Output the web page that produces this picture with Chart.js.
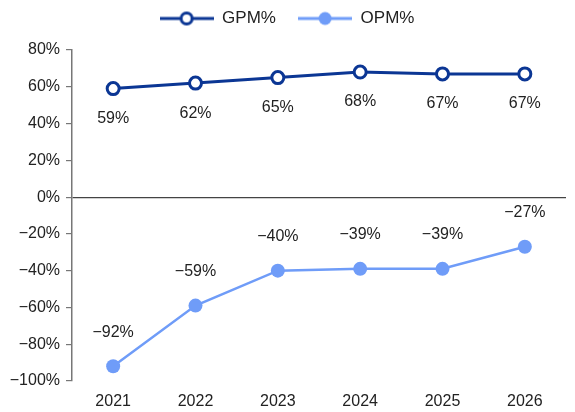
<!DOCTYPE html>
<html>
<head>
<meta charset="utf-8">
<script src="https://cdn.jsdelivr.net/npm/chart.js@4"></script>
<style>
  html, body { margin:0; padding:0; background:#fff; }
  #wrap { width:575px; height:412px; position:relative; }
</style>
</head>
<body>
<div id="wrap"><canvas id="c"></canvas></div>
<script>
'use strict';
const YEARS = ['2021', '2022', '2023', '2024', '2025', '2026'];
const GPM = [59, 62, 65, 68, 67, 67];
const OPM = [-92, -59, -40, -39, -39, -27];
const GPM_LABELS = ['59%', '62%', '65%', '68%', '67%', '67%'];
const OPM_LABELS = ['−92%', '−59%', '−40%', '−39%', '−39%', '−27%'];

const FONT = '"Liberation Sans Narrow", "Arial Narrow", "Liberation Sans", sans-serif';
const DARK = '#0b3694';
const LIGHT = '#6f9cf8';

// legend marker: short line with a circle in the middle
function marker(color, filled) {
  const c = document.createElement('canvas');
  c.width = 54; c.height = 18;
  const g = c.getContext('2d');
  g.strokeStyle = color; g.lineWidth = 3;
  g.beginPath(); g.moveTo(0, 9); g.lineTo(54, 9); g.stroke();
  g.beginPath(); g.arc(27, 9, filled ? 6.5 : 5.5, 0, Math.PI * 2);
  g.fillStyle = filled ? color : '#fff'; g.fill();
  if (!filled) { g.lineWidth = 3; g.stroke(); }
  return c;
}

const valueLabels = {
  id: 'valueLabels',
  afterDatasetsDraw(chart) {
    const ctx = chart.ctx;
    ctx.save();
    ctx.font = '16px ' + FONT;
    ctx.fillStyle = '#222';
    ctx.textAlign = 'center';
    ctx.textBaseline = 'middle';
    chart.getDatasetMeta(0).data.forEach((p, i) => ctx.fillText(GPM_LABELS[i], p.x, p.y + 30));
    chart.getDatasetMeta(1).data.forEach((p, i) => ctx.fillText(OPM_LABELS[i], p.x, p.y - 34));
    ctx.restore();
  }
};

// extra room under the legend
const legendGap = {
  id: 'legendGap',
  beforeInit(chart) {
    const fit = chart.legend.fit;
    chart.legend.fit = function () { fit.bind(chart.legend)(); this.height += 13; };
  }
};

new Chart(document.getElementById('c'), {
  type: 'line',
  data: {
    labels: YEARS,
    datasets: [
      { label: 'GPM%', data: GPM, borderColor: DARK, borderWidth: 3, pointRadius: 6,
        pointBorderWidth: 3, pointBackgroundColor: '#fff', pointBorderColor: DARK, tension: 0 },
      { label: 'OPM%', data: OPM, borderColor: LIGHT, borderWidth: 2.5, pointRadius: 7,
        pointBorderWidth: 0, pointBackgroundColor: LIGHT, pointBorderColor: LIGHT, tension: 0 },
    ]
  },
  options: {
    responsive: true, maintainAspectRatio: false, animation: false,
    layout: { padding: { top: 2, right: 1, bottom: 0, left: 0 } },
    plugins: {
      tooltip: { enabled: false },
      legend: {
        position: 'top',
        labels: {
          usePointStyle: true, pointStyleWidth: 54, boxHeight: 17,
          color: '#222', font: { family: FONT, size: 17 }, padding: 8,
          generateLabels: chart => chart.data.datasets.map((d, i) => ({
            // trailing spaces widen the gap between the two items
            text: i === 0 ? d.label + '   ' : d.label, datasetIndex: i, fontColor: '#222',
            pointStyle: marker(d.borderColor, i === 1), lineWidth: 0,
            strokeStyle: 'transparent', fillStyle: 'transparent'
          }))
        }
      }
    },
    scales: {
      x: {
        offset: true,
        afterFit: s => { s.height = 31; },
        grid: { display: false },
        border: { display: false },
        ticks: { color: '#222', font: { family: FONT, size: 16 }, padding: 3 }
      },
      y: {
        min: -100, max: 80,
        afterFit: s => { s.width = 72; },
        border: { display: true, color: '#777', width: 1.5 },
        grid: {
          color: c => c.tick && c.tick.value === 0 ? '#444' : 'transparent',
          lineWidth: 1.2, tickColor: '#777', tickLength: 6
        },
        ticks: {
          stepSize: 20, color: '#222', font: { family: FONT, size: 16 }, padding: 6,
          callback: v => (v < 0 ? '−' + Math.abs(v) : v) + '%'
        }
      }
    }
  },
  plugins: [valueLabels, legendGap]
});
</script>
</body>
</html>
